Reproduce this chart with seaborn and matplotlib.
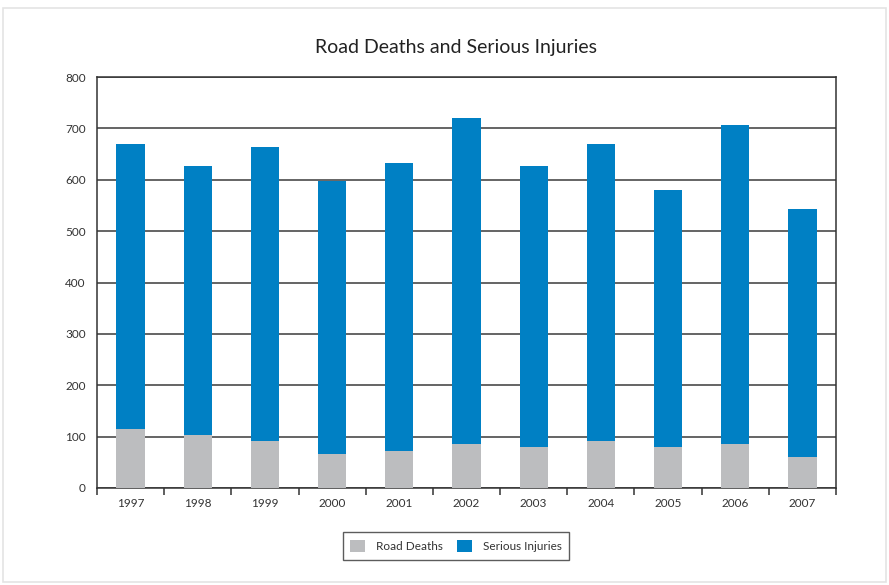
import matplotlib
matplotlib.use("Agg")
import matplotlib.pyplot as plt
import seaborn as sns
import pandas as pd
from matplotlib.patches import Rectangle, Patch

years = ["1997", "1998", "1999", "2000", "2001", "2002", "2003", "2004", "2005", "2006", "2007"]
road_deaths = [115, 103, 91, 66, 72, 86, 80, 91, 80, 86, 60]
serious_injuries = [554, 523, 572, 532, 560, 634, 546, 578, 500, 620, 483]
y_ticks = [0, 100, 200, 300, 400, 500, 600, 700, 800]

GRAY = "#bcbdbf"
BLUE = "#0080c4"

sns.set_theme(style="white")
plt.rcParams["font.family"] = ["Lato", "DejaVu Sans"]

df = pd.DataFrame({"Year": years, "Road Deaths": road_deaths, "Serious Injuries": serious_injuries})

fig = plt.figure(figsize=(8.89, 5.85), dpi=100)
ax = fig.add_axes([97/889, 1-488/585, (836-97)/889, (488-77)/585])

sns.barplot(data=df, x="Year", y="Road Deaths", color=GRAY, width=0.42, saturation=1,
            linewidth=0, edgecolor="none", ax=ax, zorder=3)
sns.barplot(data=df, x="Year", y="Serious Injuries", color=BLUE, width=0.42, saturation=1,
            linewidth=0, edgecolor="none", bottom=df["Road Deaths"], ax=ax, zorder=3)

ax.set_ylim(0, 800)
ax.set_xlim(-0.5, len(years) - 0.5)
ax.set_yticks(y_ticks)
ax.set_xlabel("")
ax.set_ylabel("")
ax.yaxis.grid(True, color="#3a3a3a", linewidth=1.1, zorder=1)
ax.set_axisbelow(True)
for s in ax.spines.values():
    s.set_color("#333333")
    s.set_linewidth(1.1)
ax.tick_params(axis="y", which="major", length=0, labelsize=8.5, labelcolor="#333333", pad=8)
ax.set_xticks(range(len(years)))
ax.set_xticklabels(years)
ax.tick_params(axis="x", which="major", length=0, labelsize=8.5, labelcolor="#333333", pad=7)
ax.set_xticks([i - 0.5 for i in range(len(years) + 1)], minor=True)
ax.tick_params(axis="x", which="minor", length=5, width=1.1, color="#333333", bottom=True)

fig.text(456/889, 1-47/585, "Road Deaths and Serious Injuries", ha="center", va="center", fontsize=14, color="#222222")

handles = [Patch(facecolor=GRAY, edgecolor="none", label="Road Deaths"),
           Patch(facecolor=BLUE, edgecolor="none", label="Serious Injuries")]
leg = fig.legend(handles=handles, loc="center", bbox_to_anchor=(456/889, 1-546/585), ncol=2,
                 frameon=True, fancybox=False, fontsize=8.5, handlelength=1.3, handleheight=1.3,
                 columnspacing=1.2, handletextpad=0.9, borderpad=0.6)
leg.get_frame().set_edgecolor("#333333")
leg.get_frame().set_linewidth(1.0)
for t in leg.get_texts():
    t.set_color("#333333")

fig.add_artist(Rectangle((3/889, 3/585), 883/889, 574/585, transform=fig.transFigure,
                         fill=False, edgecolor="#e4e4e4", linewidth=1.2))

fig.savefig("out.png", dpi=100)
